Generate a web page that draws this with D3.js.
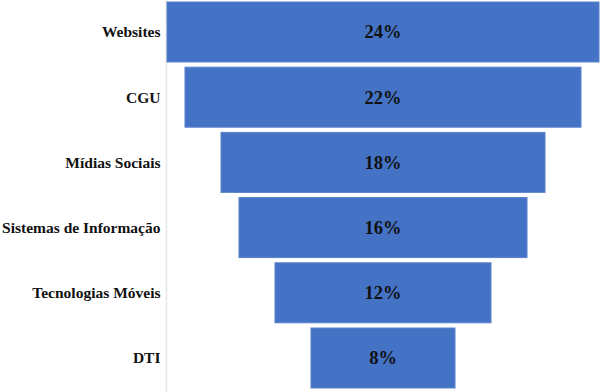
<!DOCTYPE html>
<html>
<head>
<meta charset="utf-8">
<script src="https://cdn.jsdelivr.net/npm/d3@7"></script>
<style>
  body { margin: 0; background: #fff; }
  svg text { font-family: 'Liberation Serif', 'Times New Roman', Times, 'DejaVu Serif', serif; font-weight: bold; fill: #111; }
</style>
</head>
<body>
<div id="chart"></div>
<script>
// funnel data
const categories = ['Websites', 'CGU', 'Mídias Sociais', 'Sistemas de Informação', 'Tecnologias Móveis', 'DTI'];
const values = [24, 22, 18, 16, 12, 8];
const valueLabels = ['24%', '22%', '18%', '16%', '12%', '8%'];

const W = 600, H = 392;
const centerX = 383;

const svg = d3.select('#chart').append('svg')
    .attr('width', W)
    .attr('height', H);

// scales
const y = d3.scaleBand()
    .domain(categories)
    .range([2, 388])
    .paddingInner(0.08)
    .paddingOuter(0);

const w = d3.scaleLinear()
    .domain([0, 24])
    .range([0, 432]);

// light axis line on the left of the bars
svg.append('line')
    .attr('x1', 166.5).attr('x2', 166.5)
    .attr('y1', 0).attr('y2', H)
    .attr('stroke', '#e6e6e6')
    .attr('stroke-width', 1.5);

const rows = categories.map((c, i) => ({ cat: c, val: values[i], lab: valueLabels[i] }));

// bars
svg.selectAll('.bar')
    .data(rows)
    .enter()
    .append('rect')
    .attr('class', 'bar')
    .attr('x', d => centerX - w(d.val) / 2)
    .attr('y', d => y(d.cat))
    .attr('width', d => w(d.val))
    .attr('height', y.bandwidth())
    .attr('fill', '#4472C4')
    .attr('stroke', '#5a82cc')
    .attr('stroke-width', 1);

// value labels
svg.selectAll('.val')
    .data(rows)
    .enter()
    .append('text')
    .attr('class', 'val')
    .attr('x', centerX)
    .attr('y', d => y(d.cat) + y.bandwidth() / 2)
    .attr('dy', '0.35em')
    .attr('text-anchor', 'middle')
    .style('font-size', '18.5px')
    .text(d => d.lab);

// category labels
svg.selectAll('.cat')
    .data(rows)
    .enter()
    .append('text')
    .attr('class', 'cat')
    .attr('x', 160.5)
    .attr('y', d => y(d.cat) + y.bandwidth() / 2)
    .attr('dy', '0.35em')
    .attr('text-anchor', 'end')
    .style('font-size', '15.5px')
    .text(d => d.cat);
</script>
</body>
</html>
